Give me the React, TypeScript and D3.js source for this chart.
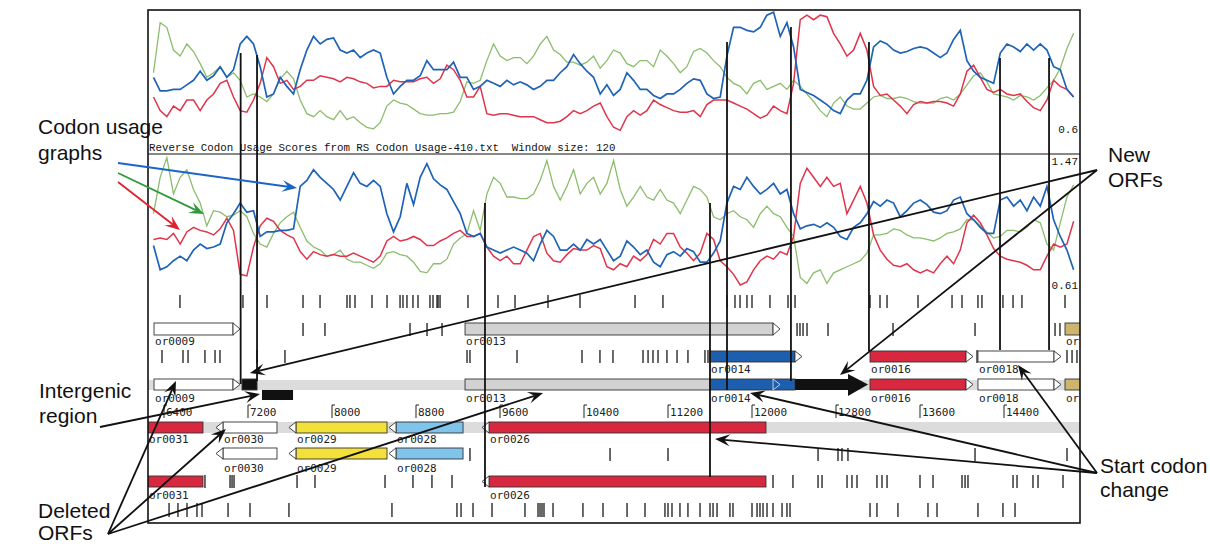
import React from 'react';
import * as d3 from 'd3';

// ---------- data ----------
const RULER_TICKS = [6400, 7200, 8000, 8800, 9600, 10400, 11200, 12000, 12800, 13600, 14400];
const WINDOW_START = 6300; // bp of first codon-usage window
const WINDOW_STEP = 63.5; // bp between windows

const TOP_BLUE = [1.01,0.92,0.92,0.93,0.93,0.96,0.99,1.05,0.99,1.02,1.08,1.01,1.06,1.23,1.28,1.23,1.08,0.88,0.90,1.01,0.95,0.90,1.06,1.19,1.28,1.23,1.26,1.27,1.19,1.17,1.19,1.14,1.17,1.19,1.17,1.01,0.90,0.95,0.99,0.99,1.02,1.12,1.06,1.06,1.06,1.11,1.01,1.01,0.93,0.95,0.99,0.97,0.95,0.99,0.96,0.98,0.96,0.93,0.95,0.99,0.99,1.04,1.08,1.16,1.10,1.05,1.01,0.90,
  0.96,0.89,0.93,1.04,0.99,0.93,0.93,0.89,0.87,0.90,0.90,0.93,0.97,1.00,0.99,0.90,0.87,0.88,1.15,1.34,1.34,1.32,1.31,1.34,1.42,1.44,1.28,1.37,1.21,0.93,0.91,0.89,0.86,0.83,0.79,0.77,0.86,0.90,0.90,0.99,1.21,1.25,1.23,1.19,1.17,1.18,1.20,1.21,1.20,1.17,1.14,1.17,1.26,1.32,1.12,1.05,1.01,0.99,0.97,1.17,1.23,1.21,1.18,1.23,1.19,1.23,1.19,1.08,1.06,0.93,0.88];
const TOP_RED = [0.88,0.79,0.75,0.82,0.79,0.86,0.86,0.79,0.86,0.90,0.97,0.99,0.88,0.79,0.78,0.86,0.97,1.14,1.08,0.97,0.99,0.93,0.95,0.99,0.99,1.02,1.01,1.00,0.98,1.01,1.00,0.98,0.97,0.94,0.95,0.95,0.99,0.98,0.98,0.98,1.00,1.01,0.97,1.00,1.09,1.06,0.99,0.88,0.88,0.95,0.77,0.76,0.77,0.77,0.76,0.75,0.75,0.75,0.73,0.71,0.71,0.72,0.75,0.79,0.77,0.79,0.82,0.84,
  0.75,0.68,0.66,0.75,0.79,0.76,0.79,0.86,0.83,0.81,0.79,0.78,0.78,0.79,0.75,0.83,0.86,0.86,0.86,0.84,0.82,0.80,0.77,0.74,0.76,0.82,0.79,0.77,0.97,1.39,1.42,1.39,1.42,1.41,1.30,1.23,1.15,1.19,1.30,1.19,0.95,0.89,0.90,0.86,0.82,0.77,0.83,0.85,0.84,0.85,0.85,0.84,0.82,0.90,1.05,1.09,1.01,0.93,0.91,0.93,0.90,0.89,0.90,0.85,0.81,0.79,0.86,0.99,0.95,0.93,0.88];
const TOP_GREEN = [1.04,1.37,1.34,1.19,1.15,1.23,1.18,1.10,1.01,1.04,1.08,1.01,1.04,0.99,0.88,0.90,0.88,0.85,0.90,1.00,1.05,1.00,0.86,0.77,0.75,0.79,0.75,0.73,0.79,0.73,0.75,0.71,0.68,0.67,0.71,0.82,0.86,0.84,0.83,0.80,0.77,0.76,0.76,0.77,0.77,0.78,0.85,0.98,0.97,0.99,1.12,1.23,1.15,1.12,1.14,1.14,1.10,1.15,1.23,1.28,1.19,1.16,1.11,1.11,1.09,1.11,1.15,1.07,
  1.12,1.19,1.17,1.10,1.08,1.12,1.12,1.08,1.19,1.15,1.10,1.04,1.08,1.18,1.20,1.17,1.12,1.08,1.01,0.97,0.95,0.90,0.97,0.99,0.93,0.95,0.97,0.93,0.99,0.95,0.90,0.85,0.79,0.75,0.84,0.88,0.82,0.80,0.80,0.84,0.88,0.89,0.87,0.87,0.88,0.87,0.85,0.84,0.84,0.84,0.87,0.88,0.86,0.90,0.96,1.02,1.04,0.98,0.90,0.89,0.88,0.86,0.89,0.88,0.86,0.89,0.94,0.99,1.07,1.20,1.30];

const MID_BLUE = [0.89,0.73,0.75,0.79,0.82,0.79,0.86,0.90,0.87,0.88,0.90,1.04,1.10,1.17,1.11,1.12,0.95,0.98,0.98,0.99,0.99,1.00,1.28,1.32,1.39,1.34,1.30,1.26,1.19,1.28,1.37,1.30,1.28,1.32,1.28,1.10,0.98,1.08,1.30,1.16,1.34,1.43,1.33,1.29,1.26,1.18,1.10,0.97,0.95,0.97,0.88,0.86,0.84,0.86,0.88,0.86,0.84,0.79,0.90,0.99,0.95,0.86,0.86,0.90,0.86,0.93,0.90,0.93,
  0.86,0.79,0.82,0.92,0.88,0.83,0.86,0.78,0.75,0.83,0.85,0.82,0.87,0.85,0.78,0.78,0.84,0.92,1.17,1.28,1.26,1.34,1.28,1.23,1.26,1.30,1.23,1.26,1.10,1.00,1.02,1.03,1.01,1.04,1.01,0.95,0.93,1.01,1.04,1.10,1.18,1.15,1.19,1.17,1.08,1.12,1.17,1.19,1.16,1.11,1.10,1.12,1.19,1.21,1.10,1.06,1.01,0.97,0.97,1.19,1.21,1.15,1.19,1.12,1.21,1.15,1.28,1.06,0.95,0.86,0.73];
const MID_RED = [0.93,0.94,0.93,0.97,0.90,0.98,1.01,0.99,0.98,0.96,1.00,1.07,0.99,0.70,0.69,0.88,1.02,1.07,1.05,0.99,0.96,0.94,0.85,0.80,0.85,0.83,0.82,0.83,0.82,0.82,0.84,0.82,0.80,0.78,0.82,0.92,0.95,0.92,0.93,0.95,0.93,0.89,0.89,0.92,0.94,0.97,0.99,0.95,0.95,0.97,0.88,0.82,0.79,0.82,0.77,0.77,0.86,0.95,0.97,0.84,0.79,0.78,0.83,0.87,0.86,0.86,0.89,0.87,
  0.75,0.73,0.77,0.75,0.82,0.79,0.83,0.93,0.90,0.97,0.97,0.88,0.84,0.79,0.84,0.97,0.93,0.79,0.75,0.70,0.63,0.65,0.73,0.79,0.82,0.80,0.85,0.83,0.95,1.30,1.40,1.34,1.28,1.34,1.28,1.30,1.10,1.19,1.28,1.17,0.96,0.86,0.80,0.76,0.75,0.77,0.73,0.71,0.73,0.71,0.77,0.82,0.77,0.86,1.04,1.09,1.04,0.96,0.87,0.82,0.80,0.79,0.78,0.76,0.73,0.73,0.82,0.90,0.88,0.90,1.05];
const MID_GREEN = [1.10,1.34,1.47,1.23,1.34,1.39,1.26,1.17,1.02,1.12,1.11,1.08,1.09,1.12,1.08,0.97,0.90,0.88,0.97,1.04,1.08,1.11,1.01,0.92,0.88,0.86,0.82,0.83,0.86,0.80,0.78,0.78,0.76,0.74,0.77,0.84,0.85,0.83,0.82,0.78,0.72,0.71,0.77,0.77,0.80,0.90,0.94,0.97,1.12,0.99,1.23,1.34,1.30,1.21,1.21,1.20,1.20,1.23,1.32,1.45,1.28,1.19,1.28,1.39,1.23,1.30,1.34,1.23,
  1.30,1.45,1.26,1.15,1.21,1.28,1.21,1.19,1.26,1.19,1.17,1.10,1.19,1.28,1.26,1.21,1.08,1.06,1.10,1.12,1.08,1.06,1.01,1.10,1.15,1.10,1.08,1.01,0.95,0.68,0.64,0.71,0.73,0.64,0.71,0.73,0.75,0.77,0.79,0.84,0.96,0.96,0.97,1.00,0.99,0.96,0.94,0.94,0.93,0.92,0.94,0.97,0.98,1.00,1.06,1.06,1.02,0.98,0.94,0.95,0.99,0.99,0.98,1.01,1.06,1.04,0.90,0.86,1.04,1.21,1.29];

// stop-codon tick positions (bp)
const TICKS_ROW1 = [6552,7152,7381,7724,7886,8143,8171,8219,8381,8524,8648,8676,8714,8771,8819,8933,8962,9000,9010,9029,9295,9581,9743,10057,10362,10886,11152,11762,11838,11886,11952,12000,12171,12343,12410,13124,13219,13286,13581,13905,14000,14152,14190,14390,14486,14571,14981];
const TICKS_ROWA = [7724,7933,8743,8905,9048,12429,12457,12486,12524,12724,13343,14124,14886,14933];
const TICKS_ROW2 = [6381,6581,6629,6790,6886,6933,7286,7552,9286,9314,9762,10381,10552,10676,10962,11010,11057,11105,11190,11286,11390,11552,11581,14143,15000,15048,15095];
const TICKS_REV2 = [9314,10648,11200,12629,12819,12857,12914,14124,15000];
const TICKS_REV3 = [6790,7029,7048,7067,7667,7838,8505,8771,8952,9143,12200,12390,12629,12667,12905,12952,13000,13190,13238,13286,13600,13724,14000,14029,14057,14486,14524,14676,14724,14962];
const TICKS_BOTTOM = [6448,6533,6619,6714,6762,7010,7219,7590,8571,9190,9229,9343,9524,9838,9962,9981,10000,10019,10105,10390,10581,10810,10981,11171,11200,11238,11314,11390,11505,11600,11629,11667,11790,11819,12000,12048,12076,12105,12143,12200,12286,12333,12362,13124,13190,13390,13676,13762,14152,14390,14505];

type Gene = { name: string; start: number; end: number; strand: 1 | -1; color: string; tip: boolean; label: boolean; innerTip?: number };
const GENES_ROWA: Gene[] = [
  { name: 'or0009', start: 6305, end: 7124, strand: 1, color: 'white', tip: true, label: true },
  { name: 'or0013', start: 9267, end: 12267, strand: 1, color: 'gray', tip: true, label: true },
  { name: 'or0019', start: 14981, end: 15400, strand: 1, color: 'khaki', tip: true, label: true },
];
const GENES_ROW2: Gene[] = [
  { name: 'or0014', start: 11600, end: 12476, strand: 1, color: 'blue', tip: true, label: true },
  { name: 'or0016', start: 13124, end: 14105, strand: 1, color: 'red', tip: true, label: true },
  { name: 'or0018', start: 14152, end: 14943, strand: 1, color: 'white', tip: true, label: true },
];
const GENES_ROWB: Gene[] = [
  { name: 'or0009', start: 6305, end: 7124, strand: 1, color: 'white', tip: true, label: true },
  { name: 'new1', start: 7143, end: 7286, strand: 1, color: 'black', tip: false, label: false },
  { name: 'or0013', start: 9267, end: 11600, strand: 1, color: 'gray', tip: false, label: true },
  { name: 'or0014', start: 11600, end: 12410, strand: 1, color: 'blue', tip: false, label: true, innerTip: 12267 },
  { name: 'or0016', start: 13124, end: 14105, strand: 1, color: 'red', tip: true, label: true },
  { name: 'or0018', start: 14152, end: 14943, strand: 1, color: 'white', tip: true, label: true },
  { name: 'or0019', start: 14981, end: 15400, strand: 1, color: 'khaki', tip: true, label: true },
];
const NEW_ORF_ARROW = { start: 12410, end: 13105 };
const INTERGENIC = { start: 7333, end: 7629 };
const GENES_REV1: Gene[] = [
  { name: 'or0031', start: 6100, end: 6771, strand: -1, color: 'red', tip: true, label: true },
  { name: 'or0030', start: 6895, end: 7476, strand: -1, color: 'white', tip: true, label: true },
  { name: 'or0029', start: 7590, end: 8524, strand: -1, color: 'yellow', tip: true, label: true },
  { name: 'or0028', start: 8543, end: 9248, strand: -1, color: 'lightblue', tip: true, label: true },
  { name: 'or0026', start: 9429, end: 12133, strand: -1, color: 'red', tip: true, label: true },
];
const GENES_REV2: Gene[] = [
  { name: 'or0030', start: 6895, end: 7476, strand: -1, color: 'white', tip: true, label: true },
  { name: 'or0029', start: 7590, end: 8524, strand: -1, color: 'yellow', tip: true, label: true },
  { name: 'or0028', start: 8543, end: 9248, strand: -1, color: 'lightblue', tip: true, label: true },
];
const GENES_REV3: Gene[] = [
  { name: 'or0031', start: 6100, end: 6771, strand: -1, color: 'red', tip: true, label: true },
  { name: 'or0026', start: 9429, end: 12133, strand: -1, color: 'red', tip: true, label: true },
];

// annotation guide lines (bp, top y, bottom y)
const GUIDES: [number, number, number][] = [
  [7130, 53, 384], [7286, 55, 381], [11762, 42, 390], [12371, 27, 381],
  [13114, 42, 351], [14362, 58, 350], [14829, 58, 350], [9457, 203, 487], [11600, 203, 477],
];

// ---------- styles ----------
const GENE_FILL: Record<string, string> = {
  white: '#ffffff', gray: '#d2d2d2', khaki: '#cdb56e', blue: '#1d5eae', red: '#d8283f',
  yellow: '#f4e03a', lightblue: '#80c4ec', black: '#111111',
};
const LINE_BLUE = '#1f63b6';
const LINE_RED = '#e0344c';
const LINE_GREEN = '#8cbd6c';
const MONO = '"DejaVu Sans Mono", monospace';
const COURIER = '"Liberation Mono", "Courier New", monospace';
const SANS = '"Liberation Sans", Arial, sans-serif';

const W = 1210, H = 546;
const FL = 148, FR = 1080, FT = 10, FB = 523;

function arrowHead(x1: number, y1: number, x2: number, y2: number, len = 15, wid = 6) {
  const a = Math.atan2(y2 - y1, x2 - x1);
  const c = Math.cos(a), s = Math.sin(a);
  const bx = x2 - len * c, by = y2 - len * s;
  const nx = x2 - len * 0.6 * c, ny = y2 - len * 0.6 * s;
  return {
    pts: `${x2},${y2} ${bx - wid * s},${by + wid * c} ${nx},${ny} ${bx + wid * s},${by - wid * c}`,
    nx, ny,
  };
}

export default function App() {
  const x = d3.scaleLinear().domain([6400, 14400]).range([164, 1004]);
  const yTop = d3.scaleLinear().domain([0.6, 1.47]).range([139.4, 7.6]);
  const yMid = d3.scaleLinear().domain([0.61, 1.47]).range([288, 157.6]);
  const wx = (i: number) => x(WINDOW_START + i * WINDOW_STEP);

  const lineTop = d3.line<number>().x((_, i) => wx(i)).y((d) => yTop(d));
  const lineMid = d3.line<number>().x((_, i) => wx(i)).y((d) => yMid(d));

  const ticks = (arr: number[], y0: number, y1: number, key: string) =>
    arr.map((b, i) => (
      <line key={key + i} x1={x(b)} x2={x(b)} y1={y0} y2={y1} stroke="#1a1a1a" strokeWidth={1.3} />
    ));

  const TW = 7;
  const genes = (arr: Gene[], y: number, h: number, labelY: number, key: string) =>
    arr.map((g, i) => {
      const x0 = x(g.start), x1 = x(g.end);
      const els: React.ReactNode[] = [];
      let bx0 = x0, bx1 = x1;
      if (g.tip) {
        if (g.strand === 1) {
          bx1 = x1 - TW;
          els.push(<polygon key="t" points={`${bx1},${y} ${x1},${y + h / 2} ${bx1},${y + h}`} fill="#fff" stroke="#333" strokeWidth={0.9} />);
        } else {
          bx0 = x0 + TW;
          els.push(<polygon key="t" points={`${bx0},${y} ${x0},${y + h / 2} ${bx0},${y + h}`} fill="#fff" stroke="#333" strokeWidth={0.9} />);
        }
      }
      els.unshift(<rect key="b" x={bx0} y={y} width={bx1 - bx0} height={h} fill={GENE_FILL[g.color]} stroke="#333" strokeWidth={0.9} />);
      if (g.innerTip) {
        const t = x(g.innerTip);
        els.push(<polygon key="it" points={`${t - TW},${y} ${t},${y + h / 2} ${t - TW},${y + h}`} fill="none" stroke="#ddd" strokeWidth={0.9} />);
      }
      if (g.label) {
        els.push(
          <text key="l" x={Math.max(bx0 + 1, FL + 1)} y={labelY} fontFamily={MONO} fontSize={11} fill="#222">{g.name}</text>
        );
      }
      return <g key={key + i}>{els}</g>;
    });

  const arrow = (x1: number, y1: number, x2: number, y2: number, color: string, key: string, w = 1.8) => {
    const h = arrowHead(x1, y1, x2, y2);
    return (
      <g key={key}>
        <line x1={x1} y1={y1} x2={h.nx} y2={h.ny} stroke={color} strokeWidth={w} />
        <polygon points={h.pts} fill={color} />
      </g>
    );
  };

  const na = NEW_ORF_ARROW;
  const naX0 = x(na.start), naX1 = x(na.end);
  const naHead = naX1 - 20;

  return (
    <svg width={W} height={H} style={{ position: 'absolute', left: 0, top: 0, background: '#fff' }}>
      <defs>
        <clipPath id="frame"><rect x={FL} y={FT} width={FR - FL} height={FB - FT} /></clipPath>
      </defs>
      <rect x={0} y={0} width={W} height={H} fill="#fff" />
      <g clipPath="url(#frame)">
        <path d={lineTop(TOP_GREEN) || ''} fill="none" stroke={LINE_GREEN} strokeWidth={1.3} />
        <path d={lineTop(TOP_RED) || ''} fill="none" stroke={LINE_RED} strokeWidth={1.5} />
        <path d={lineTop(TOP_BLUE) || ''} fill="none" stroke={LINE_BLUE} strokeWidth={1.7} />
        <path d={lineMid(MID_GREEN) || ''} fill="none" stroke={LINE_GREEN} strokeWidth={1.3} />
        <path d={lineMid(MID_RED) || ''} fill="none" stroke={LINE_RED} strokeWidth={1.5} />
        <path d={lineMid(MID_BLUE) || ''} fill="none" stroke={LINE_BLUE} strokeWidth={1.7} />

        <rect x={FL} y={380} width={FR - FL} height={10} fill="#dcdcdc" />
        <rect x={FL} y={422} width={FR - FL} height={11} fill="#dcdcdc" />

        {ticks(TICKS_ROW1, 295, 308, 'r1')}
        {ticks(TICKS_ROWA, 323, 336, 'ra')}
        {ticks(TICKS_ROW2, 350, 363, 'r2')}
        {ticks(TICKS_REV2, 448, 461, 'v2')}
        {ticks(TICKS_REV3, 475, 488, 'v3')}
        {ticks(TICKS_BOTTOM, 503, 517, 'bt')}

        {genes(GENES_ROWA, 323, 12, 345, 'ga')}
        {genes(GENES_ROW2, 351, 11, 373, 'g2')}
        {genes(GENES_ROWB, 379, 11, 402, 'gb')}
        {genes(GENES_REV1, 422, 11, 443, 'v1')}
        {genes(GENES_REV2, 448, 11, 472, 'gv2')}
        {genes(GENES_REV3, 476, 11, 499, 'gv3')}

        <polygon
          points={`${naX0},${379} ${naHead},${379} ${naHead},${374} ${naX1},${384.5} ${naHead},${396} ${naHead},${390} ${naX0},${390}`}
          fill="#111"
        />
        <rect x={x(INTERGENIC.start)} y={390} width={x(INTERGENIC.end) - x(INTERGENIC.start)} height={10} fill="#111" />

        {RULER_TICKS.map((t) => (
          <g key={'rt' + t}>
            <path d={`M${x(t)},418 V405 H${x(t) + 3}`} fill="none" stroke="#222" strokeWidth={1} />
            <text x={x(t) + 2} y={416} fontFamily={MONO} fontSize={11} fill="#222">{t}</text>
          </g>
        ))}

        <text x={FL + 1} y={151} fontFamily={COURIER} fontSize={10.8} fill="#111" xmlSpace="preserve">
          {'Reverse Codon Usage Scores from RS Codon Usage-410.txt  Window size: 120'}
        </text>
        <text x={FR - 2} y={133} textAnchor="end" fontFamily={COURIER} fontSize={11} fill="#111">0.6</text>
        <text x={FR - 2} y={165} textAnchor="end" fontFamily={COURIER} fontSize={11} fill="#111">1.47</text>
        <text x={FR - 2} y={289} textAnchor="end" fontFamily={COURIER} fontSize={11} fill="#111">0.61</text>
      </g>

      <rect x={FL} y={FT} width={FR - FL} height={FB - FT} fill="none" stroke="#111" strokeWidth={1.6} />
      <line x1={FL} x2={FR} y1={154} y2={154} stroke="#111" strokeWidth={1.2} />

      {GUIDES.map(([b, y0, y1], i) => (
        <line key={'gd' + i} x1={x(b)} x2={x(b)} y1={y0} y2={y1} stroke="#111" strokeWidth={1.8} />
      ))}

      {arrow(118, 163, x(7667), 188, '#1a66c8', 'ab')}
      {arrow(118, 173, x(6781), 214, '#2f9a3c', 'ag')}
      {arrow(118, 182, x(6552), 230, '#e3202c', 'ar')}
      {arrow(100, 427, x(7314), 394, '#111', 'ig')}
      {arrow(108, 534, x(6514), 381, '#111', 'd1')}
      {arrow(108, 534, x(6990), 429, '#111', 'd2')}
      {arrow(108, 534, x(10010), 393, '#111', 'd3')}
      {arrow(1097, 170, x(7219), 373, '#111', 'n1')}
      {arrow(1097, 170, x(12838), 375, '#111', 'n2')}
      {arrow(1097, 473, x(14533), 365, '#111', 's1')}
      {arrow(1097, 473, x(11981), 393, '#111', 's2')}
      {arrow(1097, 473, x(11648), 439, '#111', 's3')}

      <g fontFamily={SANS} fontSize={21} fill="#111">
        <text x={38} y={134}>Codon usage</text>
        <text x={38} y={160}>graphs</text>
        <text x={39} y={398}>Intergenic</text>
        <text x={39} y={423}>region</text>
        <text x={38} y={518}>Deleted</text>
        <text x={38} y={540}>ORFs</text>
        <text x={1108} y={162}>New</text>
        <text x={1108} y={187}>ORFs</text>
        <text x={1100} y={473}>Start codon</text>
        <text x={1100} y={497}>change</text>
      </g>
    </svg>
  );
}
